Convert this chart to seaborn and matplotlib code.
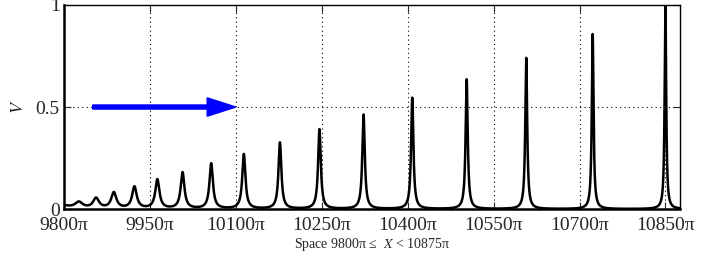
import numpy as np
import pandas as pd
import matplotlib
matplotlib.use("Agg")
import matplotlib.pyplot as plt
import seaborn as sns

# peaks (positions in units of pi)
peak_pos = [9792, 9826, 9856, 9887, 9923, 9963, 10007, 10057, 10114, 10177,
            10246, 10323, 10408, 10503, 10607, 10723, 10850]
peak_height = [0.02, 0.03, 0.05, 0.078, 0.107, 0.143, 0.178, 0.222, 0.268, 0.325,
               0.39, 0.462, 0.545, 0.635, 0.74, 0.857, 1.0]
peak_width = [18, 8, 6.2, 5.4, 4.8, 4.3, 3.9, 3.6, 3.3, 3.0,
              2.8, 2.6, 2.4, 2.2, 2.0, 1.8, 1.6]

x_ticks = [9800, 9950, 10100, 10250, 10400, 10550, 10700, 10850]
y_ticks = [0, 0.5, 1]
arrow_from = (9850, 0.5)
arrow_to = (10100, 0.5)

X = np.linspace(9800, 10875, 30000)
V = np.zeros_like(X)
for p, h, w in zip(peak_pos, peak_height, peak_width):
    V += h * w ** 2 / (w ** 2 + (X - p) ** 2)
df = pd.DataFrame({"X": X, "V": V})

sns.set_style("ticks")
plt.rcParams["font.family"] = ["Liberation Serif", "DejaVu Serif"]
plt.rcParams["mathtext.fontset"] = "stix"

fig = plt.figure(figsize=(7.27, 2.62), dpi=100)
ax = fig.add_axes([0.088, 0.202, 0.847, 0.779])

sns.lineplot(data=df, x="X", y="V", color="black", linewidth=1.8, ax=ax)

ax.set_xlim(9800, 10875)
ax.set_ylim(0, 1)
ax.set_xticks(x_ticks)
ax.set_xticklabels([f"{t}\u03c0" for t in x_ticks])
ax.set_yticks(y_ticks)
ax.set_yticklabels(["0", "0.5", "1"])
ax.grid(True, linestyle=(0, (1, 3)), color="black", linewidth=0.8)
ax.tick_params(direction="in", top=True, right=True, labelsize=14, length=5,
               width=0.8)
ax.tick_params(axis="x", pad=6)
ax.tick_params(axis="y", pad=3)
for s in ax.spines.values():
    s.set_linewidth(1.0)
    s.set_color("black")
ax.spines["bottom"].set_linewidth(1.8)
ax.spines["left"].set_linewidth(1.8)

ax.set_xlabel("Space 9800\u03c0 \u2264  $X$ < 10875\u03c0", fontsize=10, labelpad=1)
ax.set_ylabel("$V$", fontsize=13, labelpad=6)

# blue arrow along V = 0.5
ax.arrow(arrow_from[0], arrow_from[1],
         arrow_to[0] - arrow_from[0], arrow_to[1] - arrow_from[1],
         width=0.02, head_width=0.09, head_length=50,
         length_includes_head=True, color="#0000ff", zorder=4)

fig.savefig("out.png", dpi=100)
